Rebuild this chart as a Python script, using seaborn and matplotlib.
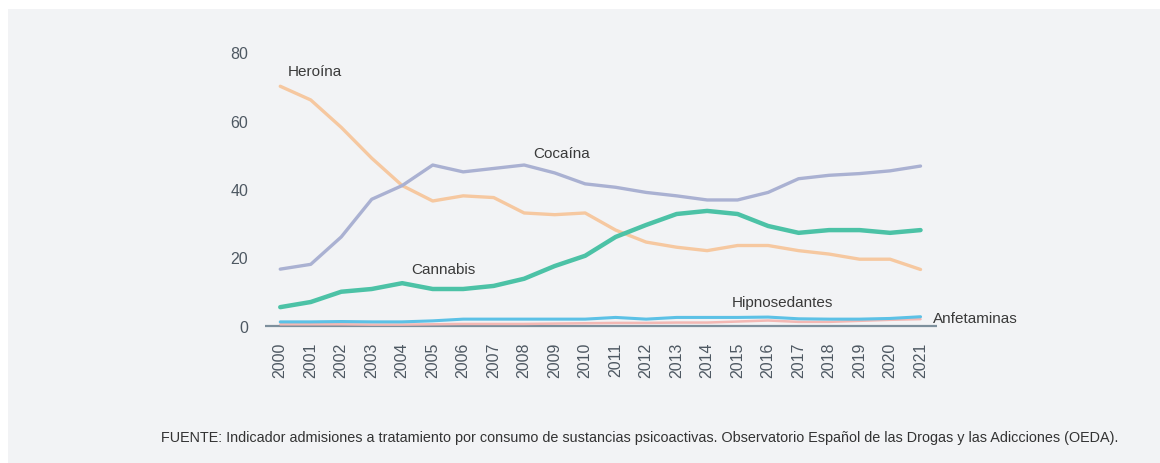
import matplotlib
matplotlib.use('Agg')
import matplotlib.pyplot as plt
import pandas as pd
import seaborn as sns

years = list(range(2000, 2022))
heroina = [70, 66, 58, 49, 41, 36.5, 38, 37.5, 33, 32.5, 33, 28, 24.5, 23, 22, 23.5, 23.5, 22, 21, 19.5, 19.5, 16.5]
cocaina = [16.6, 18, 26, 37, 41, 47, 45, 46, 47, 44.7, 41.5, 40.5, 39, 38, 36.8, 36.8, 39, 43, 44, 44.5, 45.3, 46.7]
cannabis = [5.5, 7, 10, 10.8, 12.5, 10.8, 10.8, 11.7, 13.8, 17.5, 20.5, 26, 29.5, 32.7, 33.6, 32.7, 29.2, 27.2, 28, 28, 27.2, 28]
hipnosedantes = [1.2, 1.2, 1.3, 1.2, 1.2, 1.5, 2, 2, 2, 2, 2, 2.5, 2, 2.5, 2.5, 2.5, 2.6, 2.1, 2, 2, 2.2, 2.7]
anfetaminas = [0.5, 0.5, 0.5, 0.4, 0.4, 0.5, 0.6, 0.6, 0.6, 0.7, 0.8, 0.9, 0.9, 1, 1, 1.3, 1.6, 1.2, 1.2, 1.5, 1.8, 2]

series_names = ['Heroína', 'Cocaína', 'Cannabis', 'Hipnosedantes', 'Anfetaminas']
series_values = [heroina, cocaina, cannabis, hipnosedantes, anfetaminas]
colors = ['#f6c8a0', '#aab1d2', '#4cc2a6', '#5cc1e6', '#f3b8b4']
widths = [2.4, 2.4, 3.2, 2.2, 1.8]

rows = []
for name, vals in zip(series_names, series_values):
    for yr, v in zip(years, vals):
        rows.append({'year': yr, 'value': v, 'serie': name})
df = pd.DataFrame(rows)

sns.set_style('white')
plt.rcParams['font.family'] = ['Liberation Sans', 'DejaVu Sans']

bg = '#f2f3f5'
fig = plt.figure(figsize=(11.6, 4.64), dpi=100, facecolor='white')
fig.patches.append(plt.Rectangle((8 / 1160, 0), 1, 1 - 10 / 464, transform=fig.transFigure,
                                 facecolor=bg, edgecolor='none', zorder=-10))
ax = fig.add_axes([265 / 1160, 1 - 340 / 464, 672 / 1160, 300 / 464])
ax.set_zorder(2)
ax.set_facecolor('none')

ax.axhline(0, color='#7d8f9c', lw=1.6, zorder=1)
# draw order: small ones first, then the big series
for name in ['Anfetaminas', 'Hipnosedantes', 'Heroína', 'Cocaína', 'Cannabis']:
    i = series_names.index(name)
    sns.lineplot(data=df[df['serie'] == name], x='year', y='value', color=colors[i],
                 lw=widths[i], ax=ax, legend=False, zorder=3, clip_on=False)

ax.set_xlim(1999.5, 2021.54)
ax.set_ylim(-3.8, 83.8)
ax.set_xticks(years)
ax.set_xticklabels([str(y) for y in years], rotation=90)
ax.set_yticks([0, 20, 40, 60, 80])
ax.tick_params(axis='x', length=0, pad=2, labelsize=11.5, labelcolor='#4e5862')
ax.tick_params(axis='y', length=0, pad=12, labelsize=11.5, labelcolor='#4e5862')
ax.set_xlabel('')
ax.set_ylabel('')
sns.despine(ax=ax, left=True, bottom=True)

lab = dict(fontsize=11, color='#3a3a3a', va='center', ha='left')
ax.text(2000.25, 74.5, 'Heroína', **lab)
ax.text(2008.3, 50.5, 'Cocaína', **lab)
ax.text(2004.3, 16.5, 'Cannabis', **lab)
ax.text(2014.8, 7, 'Hipnosedantes', **lab)
ax.text(2021.4, 2.2, 'Anfetaminas', **lab)

fig.text(640 / 1160, 1 - 438 / 464, 'FUENTE: Indicador admisiones a tratamiento por consumo de sustancias '
         'psicoactivas. Observatorio Español de las Drogas y las Adicciones (OEDA).',
         ha='center', va='center', fontsize=10.4, color='#333333')

fig.savefig('out.png', dpi=100, facecolor=fig.get_facecolor())
